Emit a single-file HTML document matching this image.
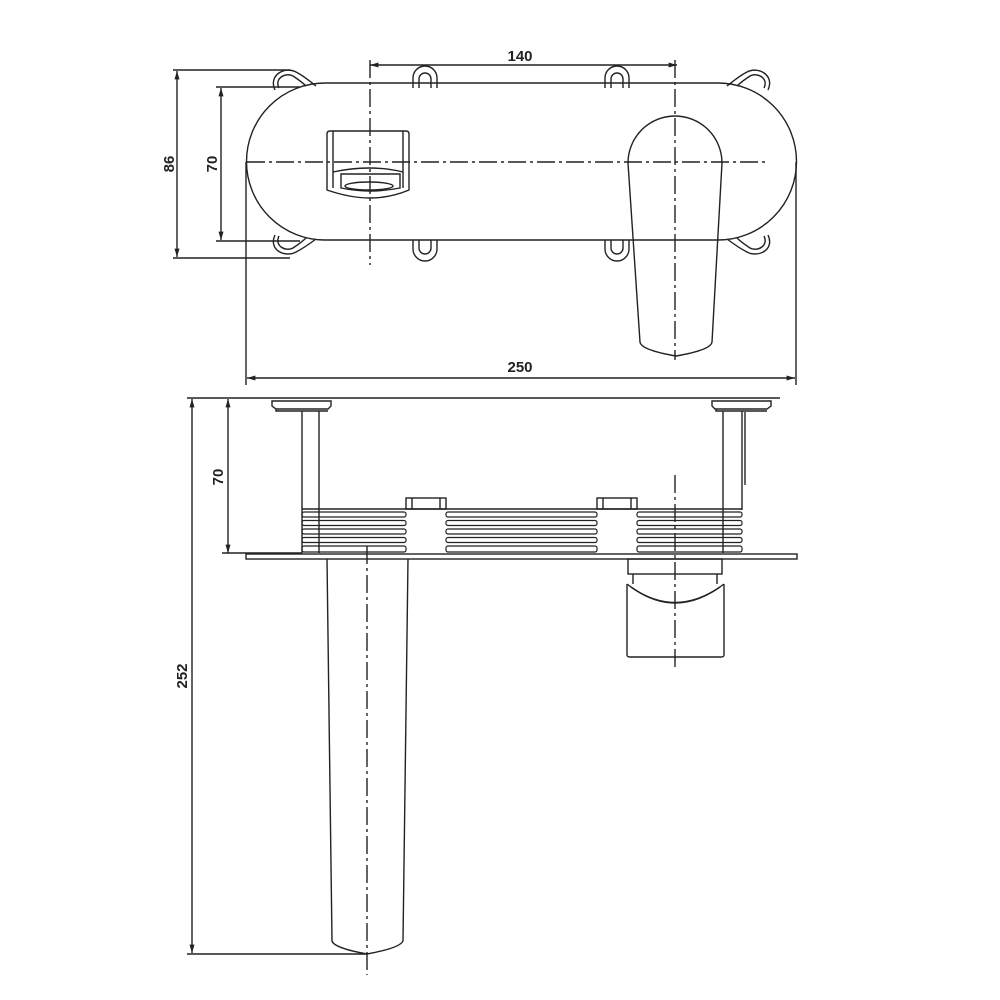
<!DOCTYPE html>
<html><head><meta charset="utf-8"><style>html,body{margin:0;padding:0;background:#fff}svg{display:block}text{font-family:"Liberation Sans",sans-serif;font-size:15px;font-weight:bold;fill:#222}</style></head><body>
<svg width="1000" height="1000" viewBox="0 0 1000 1000" xmlns="http://www.w3.org/2000/svg">
<defs><marker id="a" viewBox="0 0 10 10" refX="10" refY="5" markerWidth="6" markerHeight="6" orient="auto-start-reverse"><path d="M0,2 L10,5 L0,8 z" fill="#222"/></marker></defs>
<g fill="none" stroke="#222" stroke-width="1.4">
<!-- top view dimensions -->
<line x1="173" y1="70" x2="290" y2="70"/><line x1="173" y1="258" x2="290" y2="258"/>
<line x1="177" y1="71" x2="177" y2="257" marker-start="url(#a)" marker-end="url(#a)"/>
<line x1="216" y1="87" x2="300" y2="87"/><line x1="216" y1="241" x2="300" y2="241"/>
<line x1="221" y1="88" x2="221" y2="240" marker-start="url(#a)" marker-end="url(#a)"/>
<line x1="370" y1="65" x2="677" y2="65" marker-start="url(#a)" marker-end="url(#a)"/>
<line x1="370" y1="60" x2="370" y2="265" stroke-dasharray="18,4,3,4"/>
<line x1="675" y1="60" x2="675" y2="360" stroke-dasharray="18,4,3,4"/>
<line x1="246" y1="162" x2="246" y2="385"/><line x1="796" y1="162" x2="796" y2="385"/>
<line x1="247" y1="378" x2="795" y2="378" marker-start="url(#a)" marker-end="url(#a)"/>
<line x1="247" y1="162" x2="765" y2="162" stroke-dasharray="18,4,3,4"/>
<!-- plate -->
<path d="M325,83 L718,83 A78.5,78.5 0 0 1 718,240 L325,240 A78.5,78.5 0 0 1 325,83 Z"/>
<!-- ears -->
<path d="M275,90 C268,75 285,66 296,72 C304,76 312,83 316,86"/>
<path d="M279,88 C274,78 286,72 293,76 C299,80 304,84 306,86"/>
<path d="M275,235 C268,250 285,258 296,252 C304,248 312,242 316,239"/>
<path d="M279,236 C274,246 286,252 293,248 C299,244 304,240 306,238"/>
<path d="M768,90 C775,75 758,66 747,72 C739,76 731,83 727,86"/>
<path d="M764,88 C769,78 757,72 750,76 C744,80 739,84 737,86"/>
<path d="M768,235 C775,250 758,258 747,252 C739,248 731,242 727,239"/>
<path d="M764,236 C769,246 757,252 750,248 C744,244 739,240 737,238"/>
<!-- slots -->
<path d="M413,88 L413,78 A12,12 0 0 1 437,78 L437,88 M419,88 L419,79 A6,6 0 0 1 431,79 L431,88"/>
<path d="M605,88 L605,78 A12,12 0 0 1 629,78 L629,88 M611,88 L611,79 A6,6 0 0 1 623,79 L623,88"/>
<path d="M413,240 L413,249 A12,12 0 0 0 437,249 L437,240 M419,240 L419,248 A6,6 0 0 0 431,248 L431,240"/>
<path d="M605,240 L605,249 A12,12 0 0 0 629,249 L629,240 M611,240 L611,248 A6,6 0 0 0 623,248 L623,240"/>
<!-- spout top -->
<path d="M330,131 L406,131 Q409,131 409,134 L409,190 Q390,198 370,198 Q350,198 327,190 L327,134 Q327,131 330,131 Z"/>
<line x1="333" y1="131" x2="333" y2="188"/><line x1="403" y1="131" x2="403" y2="188"/>
<path d="M333,172 Q370,164 403,172"/>
<path d="M341,174 L400,174 L400,188 Q370,194 341,188 Z"/>
<ellipse cx="369" cy="186" rx="24" ry="4"/>
<!-- handle top -->
<path d="M628,163 A47,47 0 0 1 722,163 L712,342 Q711,350 676,356 Q641,350 640,342 Z"/>
<!-- bottom view -->
<line x1="187" y1="398" x2="780" y2="398"/>
<line x1="192" y1="399" x2="192" y2="953" marker-start="url(#a)" marker-end="url(#a)"/>
<line x1="187" y1="954" x2="368" y2="954"/>
<line x1="228" y1="399" x2="228" y2="553" marker-start="url(#a)" marker-end="url(#a)"/>
<line x1="222" y1="553" x2="302" y2="553"/>
<!-- caps -->
<path d="M272,401 L331,401 L331,406 L328,409 L276,409 L272,406 Z M276,409 L276,411 L328,411"/>
<path d="M712,401 L771,401 L771,406 L767,409 L715,409 L712,406 Z M716,409 L716,411 L767,411"/>
<!-- posts -->
<line x1="302" y1="411" x2="302" y2="553"/><line x1="319" y1="411" x2="319" y2="553"/>
<line x1="723" y1="411" x2="723" y2="553"/><line x1="742" y1="411" x2="742" y2="510"/>
<line x1="745" y1="412" x2="745" y2="485"/>
<line x1="675" y1="475" x2="675" y2="670" stroke-dasharray="18,4,3,4"/>
<!-- body ridges -->
<line x1="302" y1="509" x2="742" y2="509"/>
<g stroke-width="1.2">
<rect x="302" y="512" width="104" height="5" rx="2"/><rect x="302" y="520.5" width="104" height="5" rx="2"/><rect x="302" y="529" width="104" height="5" rx="2"/><rect x="302" y="537.5" width="104" height="5" rx="2"/><rect x="302" y="546" width="104" height="6" rx="2"/>
<rect x="446" y="512" width="151" height="5" rx="2"/><rect x="446" y="520.5" width="151" height="5" rx="2"/><rect x="446" y="529" width="151" height="5" rx="2"/><rect x="446" y="537.5" width="151" height="5" rx="2"/><rect x="446" y="546" width="151" height="6" rx="2"/>
<rect x="637" y="512" width="105" height="5" rx="2"/><rect x="637" y="520.5" width="105" height="5" rx="2"/><rect x="637" y="529" width="105" height="5" rx="2"/><rect x="637" y="537.5" width="105" height="5" rx="2"/><rect x="637" y="546" width="105" height="6" rx="2"/>
</g>
<rect x="406" y="498" width="40" height="11"/><line x1="412" y1="498" x2="412" y2="509"/><line x1="440" y1="498" x2="440" y2="509"/>
<rect x="597" y="498" width="40" height="11"/><line x1="603" y1="498" x2="603" y2="509"/><line x1="631" y1="498" x2="631" y2="509"/>
<!-- wall plate -->
<rect x="246" y="554" width="551" height="5"/>
<!-- spout side -->
<path d="M327,559 L332,941 Q334,948 367,954 Q400,948 403,941 L408,559"/>
<line x1="367" y1="546" x2="367" y2="975" stroke-dasharray="18,4,3,4"/>
<!-- handle side -->
<rect x="628" y="559" width="94" height="15"/>
<path d="M633,574 L633,584 M717,574 L717,584"/>
<path d="M627,584 Q675,622 724,584 M627,584 L627,655 Q627,657 630,657 L721,657 Q724,657 724,655 L724,584"/>
<path d="M631,587 Q675,618 720,587"/>
</g>
<text x="520" y="61" text-anchor="middle">140</text>
<text x="520" y="372" text-anchor="middle">250</text>
<text transform="translate(174,164) rotate(-90)" text-anchor="middle">86</text>
<text transform="translate(217,164) rotate(-90)" text-anchor="middle">70</text>
<text transform="translate(223,477) rotate(-90)" text-anchor="middle">70</text>
<text transform="translate(187,676) rotate(-90)" text-anchor="middle">252</text>
</svg>
</body></html>
